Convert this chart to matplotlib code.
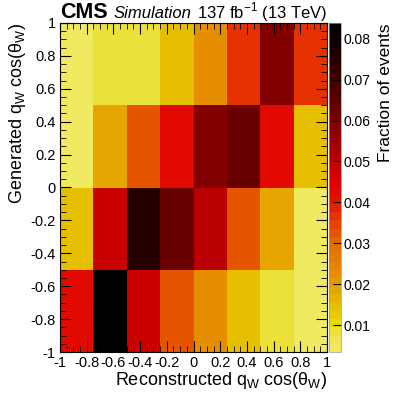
import numpy as np
import matplotlib
matplotlib.use("Agg")
import matplotlib.pyplot as plt
from matplotlib.colors import LinearSegmentedColormap
from matplotlib.ticker import MultipleLocator

plt.rcParams['font.family'] = ['Liberation Sans', 'DejaVu Sans']

# bin edges
reco_edges = [-1.0, -0.75, -0.5, -0.25, 0.0, 0.25, 0.5, 0.75, 1.0]
gen_edges = [-1.0, -0.5, 0.0, 0.5, 1.0]

# fraction of events, rows = generated bins (bottom to top)
gen_m1 = [0.043, 0.0838, 0.048, 0.032, 0.022, 0.014, 0.009, 0.004]
gen_m05 = [0.014, 0.048, 0.074, 0.062, 0.051, 0.032, 0.018, 0.004]
gen_0 = [0.004, 0.018, 0.032, 0.043, 0.058, 0.062, 0.043, 0.014]
gen_05 = [0.004, 0.009, 0.009, 0.014, 0.022, 0.036, 0.058, 0.036]

frac = np.array([gen_m1, gen_m05, gen_0, gen_05])
zmin, zmax = 0.0035, 0.0838

# inverted dark-body-radiator palette, 40 contour levels
anchors = [(0.0, "#f0ea60"), (0.04, "#eee452"), (0.081, "#e5d800"),
           (0.143, "#e6b800"), (0.205, "#e69800"), (0.33, "#e56800"),
           (0.455, "#e51400"), (0.517, "#e00000"), (0.579, "#c00000"),
           (0.704, "#7c0000"), (0.828, "#420000"), (0.953, "#100000"),
           (1.0, "#000000")]
cmap = LinearSegmentedColormap.from_list("dbr", anchors).resampled(40)

fig = plt.figure(figsize=(3.99, 3.94), dpi=100)
ax = fig.add_axes([60/399, 42/394, 267/399, 329/394])
cax = fig.add_axes([329/399, 42/394, 12/399, 329/394])

mesh = ax.pcolormesh(reco_edges, gen_edges, frac, cmap=cmap, vmin=zmin, vmax=zmax)
ax.set_xlim(-1, 1)
ax.set_ylim(-1, 1)

def fmt(v, p):
    return "0" if abs(v) < 1e-9 else "%g" % round(v, 2)

for a in (ax.xaxis, ax.yaxis):
    a.set_major_locator(MultipleLocator(0.2))
    a.set_minor_locator(MultipleLocator(0.05))
    a.set_major_formatter(fmt)
ax.tick_params(which='both', direction='in', top=True, right=True, labelsize=10.5)
ax.tick_params(axis='x', pad=3)
ax.tick_params(axis='y', pad=3)
ax.tick_params(which='major', length=8)
ax.tick_params(which='minor', length=4)
for s in ax.spines.values():
    s.set_linewidth(0.8)

ax.set_xlabel(r"Reconstructed q$_{\mathregular{W}}$ cos($\mathregular{\theta_W}$)", fontsize=13, loc='right', labelpad=0)
ax.set_ylabel(r"Generated q$_{\mathregular{W}}$ cos($\mathregular{\theta_W}$)", fontsize=13, loc='top', labelpad=2)

cb = fig.colorbar(mesh, cax=cax)
cb.set_ticks([0.01, 0.02, 0.03, 0.04, 0.05, 0.06, 0.07, 0.08])
cb.ax.tick_params(direction='in', length=6, labelsize=10, pad=2)
cb.outline.set_linewidth(0.5)
cb.outline.set_edgecolor("#999999")
fig.text(0.985, 371/394, "Fraction of events", rotation=90, ha='right', va='top', fontsize=12.5)

fig.text(60/399, 376/394, "CMS", fontsize=15.5, fontweight='bold', ha='left', va='baseline')
fig.text(114/399, 376/394, "Simulation", fontsize=12, style='italic', ha='left', va='baseline')
fig.text(327/399, 376/394, r"137 fb$^{\mathregular{-1}}$ (13 TeV)", fontsize=12, ha='right', va='baseline')

fig.savefig("out.png", dpi=100)
